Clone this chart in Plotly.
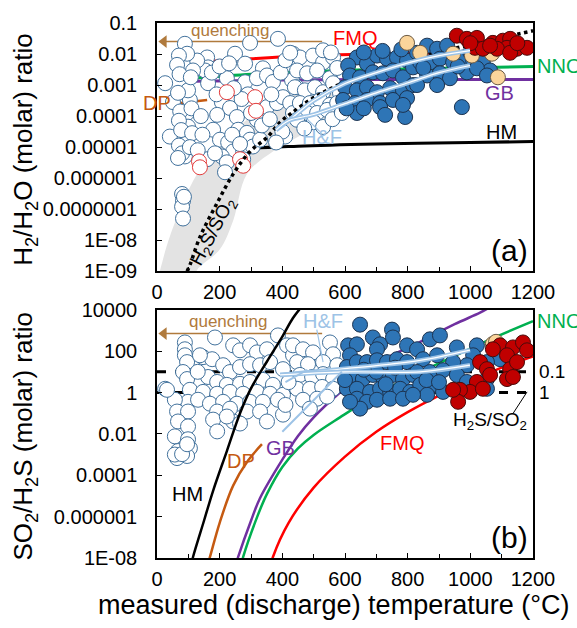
import plotly.graph_objects as go

# ---------------- tick definitions ----------------
x_ticks = [0, 200, 400, 600, 800, 1000, 1200]
top_y_tickvals = [1e-9, 1e-8, 1e-7, 1e-6, 1e-5, 1e-4, 1e-3, 1e-2, 1e-1]
top_y_ticktext = ["1E-09", "1E-08", "0.0000001", "0.000001", "0.00001", "0.0001", "0.001", "0.01", "0.1"]
bot_y_tickvals = [1e-8, 1e-6, 1e-4, 1e-2, 1, 1e2, 1e4]
bot_y_ticktext = ["1E-08", "0.000001", "0.0001", "0.01", "1", "100", "10000"]

# ---------------- data: (temperature °C, log10 ratio) ----------------
# (a) H2/H2O
top_white = [
    (89, -1.67), (297, -1.64), (386, -1.51), (160, -2.11), (163, -2.43), (153, -2.53), (249, -1.99),
    (281, -2.31), (338, -2.46), (434, -1.99), (431, -2.85), (163, -2.94), (223, -2.78), (281, -2.91),
    (319, -2.78), (351, -2.69), (207, -3.55), (233, -3.74), (255, -4.03), (192, -3.96), (179, -4.44),
    (201, -4.76), (259, -4.44), (287, -4.54), (319, -4.12), (351, -3.71), (383, -3.58), (402, -3.39),
    (425, -3.58), (297, -4.76), (227, -4.85), (243, -5.14), (207, -5.30), (223, -5.49), (275, -5.14),
    (306, -4.98), (329, -4.76), (409, -4.66), (160, -5.39), (217, -5.81), (275, -5.39), (96, -3.90),
    (99, -4.34), (96, -4.85), (99, -5.17), (89, -5.30), (105, -3.48), (99, -3.17), (128, -2.21),
    (115, -2.53), (434, -3.90), (447, -3.07), (26, -2.94), (51, -3.55), (41, -4.66), (96, -1.99),
    (70, -2.05), (64, -2.35), (72, -2.65), (67, -3.25), (74, -3.85), (70, -4.15), (77, -4.45),
    (70, -4.95), (80, -5.20), (67, -5.35), (108, -2.75), (110, -3.75), (112, -4.55), (105, -5.00),
    (80, -6.51), (83, -6.73), (80, -6.92), (86, -6.60), (83, -7.30),
    (140, -4.00), (145, -4.60), (130, -5.10), (185, -5.20), (240, -4.60), (265, -4.90), (300, -3.90),
    (335, -4.30), (360, -4.10), (370, -2.90), (395, -2.60), (410, -2.20), (365, -3.30), (290, -3.30),
    (270, -3.45), (245, -3.10), (190, -3.30), (175, -2.60), (200, -2.40), (230, -2.30),
    (456, -2.11), (498, -2.05), (530, -2.27), (562, -2.11), (447, -2.53), (479, -2.62), (511, -2.53),
    (552, -2.78), (440, -3.07), (472, -3.17), (504, -3.07), (530, -3.23), (562, -2.94), (584, -3.26),
    (456, -3.58), (488, -3.58), (520, -3.48), (552, -3.64), (479, -3.90), (511, -3.90), (447, -4.12),
    (543, -3.80), (575, -3.58), (575, -2.45), (425, -1.96), (530, -1.88), (555, -1.95),
    (500, -4.20), (530, -4.35), (560, -4.10), (590, -3.90), (470, -4.40), (400, -4.50), (380, -4.85),
]
top_red_open = [(223, -3.23), (313, -3.39), (316, -3.83), (134, -5.46), (137, -5.65), (265, -5.39), (275, -5.60)]
top_blue = [
    (638, -2.11), (610, -2.37), (670, -2.31), (702, -2.05), (734, -2.15), (766, -2.11), (798, -2.21),
    (616, -2.69), (648, -2.75), (689, -2.59), (721, -2.62), (753, -2.53), (785, -2.75), (817, -2.43),
    (600, -3.07), (638, -3.17), (670, -3.07), (702, -3.23), (744, -3.10), (785, -3.17), (817, -3.00),
    (594, -3.48), (632, -3.58), (670, -3.48), (712, -3.58), (753, -3.48), (798, -3.42), (638, -3.90),
    (712, -3.71), (728, -3.96), (792, -4.03), (973, -3.71), (785, -3.64), (605, -3.75), (660, -3.75),
    (660, -1.95), (720, -1.90), (780, -1.85),
    (830, -1.96), (862, -1.73), (894, -1.83), (926, -1.73), (840, -2.27), (871, -2.27), (903, -2.15),
    (945, -2.27), (977, -2.11), (1009, -2.21), (1040, -2.27), (1063, -2.53), (862, -2.69), (903, -2.62),
    (935, -2.78), (989, -2.59), (1021, -2.46), (894, -3.00), (830, -3.00), (1053, -2.69), (850, -2.45),
    (960, -2.40), (1000, -1.95),
]
top_tan = [(798, -1.64), (840, -1.96), (945, -1.99), (1005, -2.05), (1069, -1.99), (1088, -2.75)]
top_red = [
    (957, -1.41), (989, -1.51), (1021, -1.48), (1015, -1.80), (1040, -1.83), (1072, -1.64), (1104, -1.57),
    (1127, -1.51), (1117, -1.80), (1149, -1.83), (1181, -1.80), (1085, -1.83), (1063, -1.73), (1127, -1.96),
    (1150, -1.65), (1000, -1.65),
]

# buffer curves (a)
top_FMQ = [(115, -2.27), (300, -2.15), (450, -2.07), (700, -2.00), (1000, -1.95), (1200, -1.92)]
top_NNO = [(115, -2.78), (300, -2.65), (450, -2.58), (700, -2.50), (1000, -2.44), (1200, -2.40)]
top_GB = [(115, -2.88), (400, -2.84), (800, -2.82), (1200, -2.82)]
top_HM = [(115, -5.40), (200, -5.20), (300, -5.05), (450, -4.97), (700, -4.90), (1000, -4.85), (1200, -4.82)]
top_DP = [(40, -3.62), (160, -3.48)]
top_H2S_SO2 = [(96, -9.0), (105, -8.8), (137, -7.9), (192, -6.8), (243, -5.87), (297, -5.14), (351, -4.69),
               (393, -4.2), (430, -3.9), (498, -3.42), (600, -2.9), (800, -2.2), (1000, -1.7), (1200, -1.25)]
band_upper = [(0, -9.3), (10, -8.96), (41, -7.88), (128, -5.87), (201, -5.01), (307, -3.96), (434, -3.32),
              (550, -3.00), (620, -3.00)]
band_lower = [(620, -3.50), (584, -3.85), (480, -4.50), (370, -5.14), (287, -5.87), (243, -7.37),
              (200, -8.30), (128, -8.96), (120, -9.3)]
top_HF_upper = [(380, -4.45), (420, -4.15), (500, -3.50), (600, -2.95), (700, -2.60), (807, -2.27), (900, -2.05), (999, -1.89)]
top_HF_lower = [(380, -4.45), (420, -4.15), (500, -3.95), (600, -3.60), (700, -3.25), (807, -2.91), (900, -2.60), (999, -2.37)]

# (b) SO2/H2S
bot_white = [
    (89, 2.42), (89, 2.09), (89, 1.80), (96, 1.47), (83, 0.99), (96, 0.65), (105, 0.13), (99, -0.45),
    (57, -0.35), (64, -0.92), (99, -0.92), (67, -1.40), (99, -1.64), (57, -2.12), (99, -2.26), (105, -2.69),
    (67, -2.83), (96, -3.07), (64, -3.17), (57, -3.00), (80, -2.98), (96, -2.50), (26, 0.18), (32, 0.13),
    (185, 2.66), (147, 1.71), (176, 1.61), (243, 2.28), (265, 2.04), (297, 2.28), (319, 1.94), (351, 2.09),
    (386, 2.76), (415, 2.28), (434, 1.80), (211, 1.32), (233, 0.99), (265, 1.23), (297, 1.37), (329, 1.32),
    (361, 1.47), (402, 1.13), (163, 0.75), (192, 0.51), (223, 0.37), (265, 0.42), (297, 0.51), (338, 0.61),
    (370, 0.37), (147, 0.03), (192, -0.06), (233, 0.03), (275, -0.06), (319, 0.03), (361, -0.06), (402, -0.11),
    (131, -0.35), (169, -0.54), (211, -0.45), (255, -0.54), (297, -0.45), (338, -0.45), (386, -0.35),
    (192, -0.92), (233, -0.78), (287, -0.92), (329, -0.92), (351, -1.40), (243, -1.40), (179, -1.31),
    (192, -1.88), (265, -1.50), (223, -1.16), (402, -1.07), (137, 1.80), (130, 1.00),
    (434, 2.28), (466, 2.09), (498, 1.94), (552, 2.42), (562, 1.85), (447, 1.47), (482, 1.37), (530, 1.47),
    (575, 1.32), (456, 0.85), (495, 0.75), (530, 0.89), (562, 0.65), (447, 0.18), (488, 0.18), (527, 0.27),
    (562, 0.18), (466, -0.35), (511, -0.30), (543, -0.20), (488, -0.78), (420, 0.50), (410, -0.60),
]
bot_blue = [
    (648, 3.28), (689, 2.66), (712, 2.33), (750, 3.04), (753, 2.66), (610, 2.28), (638, 2.33), (616, 1.80),
    (702, 2.09), (798, 2.28), (606, 1.23), (638, 1.47), (670, 1.47), (702, 1.56), (734, 1.47), (766, 1.61),
    (798, 1.47), (626, 0.85), (657, 0.65), (689, 0.85), (721, 0.75), (753, 0.85), (785, 0.65), (817, 0.85),
    (606, 0.18), (638, 0.18), (680, 0.03), (712, 0.18), (744, 0.03), (776, 0.18), (808, 0.03), (638, -0.30),
    (670, -0.45), (702, -0.35), (744, -0.30), (785, -0.30), (648, -0.78), (616, -0.45),
    (830, 2.09), (871, 2.57), (903, 2.76), (957, 2.18), (1021, 2.28), (1009, 1.80), (989, 1.32), (945, 1.47),
    (894, 1.80), (849, 1.61), (830, 0.99), (871, 0.99), (913, 1.08), (957, 0.85), (840, 0.37), (881, 0.37),
    (913, 0.03), (862, -0.11), (817, -0.11), (1053, 0.65), (1053, 0.18), (1095, 1.61), (1053, 1.47), (989, 0.51),
    (700, 1.00), (760, 1.20), (600, 0.60), (660, 1.10), (730, 0.40), (860, 0.60), (900, 0.50),
]
bot_tan = [(1072, 2.35), (1082, 2.45)]
bot_red = [
    (1095, 2.28), (1136, 2.18), (1168, 2.42), (1181, 2.04), (1117, 1.80), (1072, 2.09), (1031, 1.47),
    (1053, 1.13), (1127, 1.13), (1117, 0.65), (1136, 0.75), (1021, 0.51), (999, 0.03), (967, 0.13),
    (961, -0.45), (1040, 0.18), (1063, 0.85), (1149, 1.47), (945, 0.13),
]

# buffer curves (b)
bot_HM = [(108, -8.4), (115, -7.95), (150, -6.2), (179, -4.75), (223, -2.83), (265, -1.0), (300, 0.2),
          (351, 1.5), (400, 2.7), (434, 3.6), (470, 4.3)]
bot_DP = [(160, -8.4), (169, -7.95), (200, -6.3), (243, -4.5), (290, -3.3), (335, -2.5)]
bot_GB = [(250, -8.4), (259, -7.95), (300, -6.2), (329, -5.1), (402, -3.2), (450, -2.1), (500, -1.2),
          (584, 0.0), (700, 1.4), (840, 2.45), (950, 3.3), (1031, 3.86), (1060, 4.1)]
bot_NNO = [(268, -8.4), (275, -7.95), (320, -6.0), (351, -4.9), (400, -3.6), (450, -2.7), (500, -2.05),
           (584, -1.2), (700, -0.1), (808, 0.75), (913, 1.5), (1053, 2.5), (1200, 3.45)]
bot_FMQ = [(362, -8.4), (370, -7.95), (420, -6.3), (500, -4.6), (600, -3.1), (700, -1.9), (800, -0.95),
           (900, -0.15), (1000, 0.55), (1100, 1.2), (1200, 1.75)]
bot_ratio_01 = [(0, 1.0), (1200, 1.0)]
bot_ratio_1 = [(0, 0.0), (1200, 0.0)]
bot_HF_upper = [(393, 0.85), (500, 1.0), (600, 1.15), (700, 1.3), (840, 1.55), (999, 2.05)]
bot_HF_lower = [(393, 0.85), (600, 1.0), (840, 1.0), (999, 1.32)]
bot_HF_diag1 = [(400, -1.9), (590, 1.0)]
bot_HF_diag2 = [(410, 0.5), (480, 1.1)]

# ---------------- styles ----------------
C_WHITE_LINE = "#41719c"
C_BLUE = "#2e75b6"
C_BLUE_LINE = "#1c3350"
C_RED = "#c00000"
C_RED_LINE = "#4a0a0a"
C_TAN = "#fbd59b"
C_TAN_LINE = "#6b5a45"
C_FMQ = "#ff0000"
C_NNO = "#00b050"
C_GB = "#7030a0"
C_DP = "#c55a11"
C_HF = "#9dc3e6"
C_Q = "#b07a3c"
FONT = "Liberation Sans, Arial, sans-serif"

fig = go.Figure()


def pts(data, xa, ya, fill, edge, size=15, width=1):
    fig.add_trace(go.Scatter(
        x=[p[0] for p in data], y=[10 ** p[1] for p in data], mode="markers",
        marker=dict(size=size, color=fill, line=dict(color=edge, width=width)),
        xaxis=xa, yaxis=ya, showlegend=False, hoverinfo="skip"))


def ln(data, xa, ya, color, width, dash=None, shape="spline"):
    fig.add_trace(go.Scatter(
        x=[p[0] for p in data], y=[10 ** p[1] for p in data], mode="lines",
        line=dict(color=color, width=width, dash=dash, shape=shape),
        xaxis=xa, yaxis=ya, showlegend=False, hoverinfo="skip"))


def hf(data, xa, ya):
    ln(data, xa, ya, C_HF, 4.5)
    ln(data, xa, ya, "white", 1.2)


# ----- panel (a) -----
band = band_upper + band_lower
fig.add_trace(go.Scatter(x=[p[0] for p in band], y=[10 ** p[1] for p in band], mode="lines",
                         fill="toself", fillcolor="#e3e3e3", line=dict(width=0, shape="spline"),
                         xaxis="x", yaxis="y", showlegend=False, hoverinfo="skip"))
ln(top_FMQ, "x", "y", C_FMQ, 3)
ln(top_NNO, "x", "y", C_NNO, 3)
ln(top_GB, "x", "y", C_GB, 3)
ln(top_HM, "x", "y", "black", 3)
ln(top_DP, "x", "y", C_DP, 2.5, shape="linear")
# quenching arrow
ln([(22, -1.6), (527, -1.6)], "x", "y", C_Q, 1.5, shape="linear")
fig.add_trace(go.Scatter(x=[22], y=[10 ** -1.6], mode="markers",
                         marker=dict(symbol="triangle-left", size=11, color=C_Q),
                         xaxis="x", yaxis="y", showlegend=False, hoverinfo="skip"))
pts(top_white, "x", "y", "white", C_WHITE_LINE)
pts(top_red_open, "x", "y", "white", "#e23a3a")
ln(top_H2S_SO2, "x", "y", "black", 3.5, dash="dot")
pts(top_blue, "x", "y", C_BLUE, C_BLUE_LINE)
pts(top_tan, "x", "y", C_TAN, C_TAN_LINE)
pts(top_red, "x", "y", C_RED, C_RED_LINE)
hf(top_HF_upper, "x", "y")
hf(top_HF_lower, "x", "y")
ln([(520, -4.5), (472, -4.03)], "x", "y", C_HF, 1.2, shape="linear")

# ----- panel (b) -----
ln(bot_ratio_01, "x2", "y2", "black", 3, dash="dash", shape="linear")
ln(bot_ratio_1, "x2", "y2", "black", 3, dash="dash", shape="linear")
ln(bot_DP, "x2", "y2", C_DP, 2.5)
ln(bot_GB, "x2", "y2", C_GB, 2.5)
ln(bot_NNO, "x2", "y2", C_NNO, 2.5)
ln(bot_FMQ, "x2", "y2", C_FMQ, 2.5)
ln([(22, 2.85), (527, 2.85)], "x2", "y2", C_Q, 1.5, shape="linear")
fig.add_trace(go.Scatter(x=[22], y=[10 ** 2.85], mode="markers",
                         marker=dict(symbol="triangle-left", size=11, color=C_Q),
                         xaxis="x2", yaxis="y2", showlegend=False, hoverinfo="skip"))
pts(bot_white, "x2", "y2", "white", C_WHITE_LINE)
ln(bot_HM, "x2", "y2", "black", 2.5)
pts(bot_blue, "x2", "y2", C_BLUE, C_BLUE_LINE)
pts(bot_tan, "x2", "y2", C_TAN, C_TAN_LINE)
pts(bot_red, "x2", "y2", C_RED, C_RED_LINE)
hf(bot_HF_upper, "x2", "y2")
hf(bot_HF_lower, "x2", "y2")
ln(bot_HF_diag1, "x2", "y2", C_HF, 2, shape="linear")
ln(bot_HF_diag2, "x2", "y2", C_HF, 2, shape="linear")
ln([(510, 3.04), (530, 1.47)], "x2", "y2", C_HF, 1.2, shape="linear")
ln([(1136, -1.02), (1181, 0.03)], "x2", "y2", "black", 1, shape="linear")

# ---------------- layout ----------------
axis_common = dict(showline=True, mirror=True, linecolor="black", linewidth=1.5, ticks="inside",
                   ticklen=5, tickcolor="black", showgrid=False, zeroline=False,
                   tickfont=dict(size=20, color="black", family=FONT))
xax = dict(axis_common, range=[0, 1200], tickvals=x_ticks, ticklabelstandoff=2,
           minor=dict(dtick=100, ticks="inside", ticklen=4, tickcolor="black"))

fig.update_layout(
    width=577, height=628, margin=dict(l=157, r=44, t=17, b=70),
    paper_bgcolor="white", plot_bgcolor="white", font=dict(family=FONT, color="black"),
    xaxis=dict(xax, domain=[0, 1], anchor="y"),
    xaxis2=dict(xax, domain=[0, 1], anchor="y2"),
    yaxis=dict(axis_common, type="log", range=[-9, -1], domain=[0.536, 1], anchor="x",
               tickvals=top_y_tickvals, ticktext=top_y_ticktext, ticklabelstandoff=14),
    yaxis2=dict(axis_common, type="log", range=[-8, 4], domain=[0, 0.464], anchor="x2",
                tickvals=bot_y_tickvals, ticktext=bot_y_ticktext, ticklabelstandoff=14),
)


def txt(text, x, y, color="black", size=20, xref="x", yref="y", xanchor="center", angle=0):
    fig.add_annotation(text=text, x=x, y=y, xref=xref, yref=yref, showarrow=False,
                       xanchor=xanchor, yanchor="middle", textangle=angle,
                       font=dict(size=size, color=color, family=FONT))


# panel (a) labels
txt("quenching", 233, -1.25, C_Q, 17)
txt("FMQ", 632, -1.48, C_FMQ)
txt("NNO", 1.005, -2.40, C_NNO, xref="paper", xanchor="left")
txt("GB", 1092, -3.26, C_GB)
txt("HM", 1101, -4.50, "black")
txt("DP", 0, -3.58, C_DP)
txt("H&amp;F", 526, -4.66, C_HF)
txt("(a)", 1124, -8.32, "black", 30)
txt("H<sub>2</sub>S/SO<sub>2</sub>", 181, -7.75, "black", 19, angle=-62)
# panel (b) labels
txt("quenching", 227, 3.43, C_Q, 17, xref="x2", yref="y2")
txt("H&amp;F", 531, 3.47, C_HF, xref="x2", yref="y2")
txt("NNO", 1.005, 3.47, C_NNO, xref="paper", yref="y2", xanchor="left")
txt("0.1", 1.01, 1.0, "black", 19, xref="paper", yref="y2", xanchor="left")
txt("1", 1.01, 0.0, "black", 19, xref="paper", yref="y2", xanchor="left")
txt("H<sub>2</sub>S/SO<sub>2</sub>", 1063, -1.40, "black", 19, xref="x2", yref="y2")
txt("HM", 96, -4.89, "black", xref="x2", yref="y2")
txt("DP", 268, -3.31, C_DP, xref="x2", yref="y2")
txt("GB", 393, -2.69, C_GB, xref="x2", yref="y2")
txt("FMQ", 782, -2.45, C_FMQ, xref="x2", yref="y2")
txt("(b)", 1124, -7.0, "black", 30, xref="x2", yref="y2")

# axis titles
txt("H<sub>2</sub>/H<sub>2</sub>O (molar) ratio", -0.351, 0.763, "black", 26, xref="paper", yref="paper", angle=-90)
txt("SO<sub>2</sub>/H<sub>2</sub>S (molar) ratio", -0.351, 0.227, "black", 26, xref="paper", yref="paper", angle=-90)
txt("measured (discharge) temperature (°C)", 0.469, -0.087, "black", 27, xref="paper", yref="paper")

fig.write_html("out.html")
